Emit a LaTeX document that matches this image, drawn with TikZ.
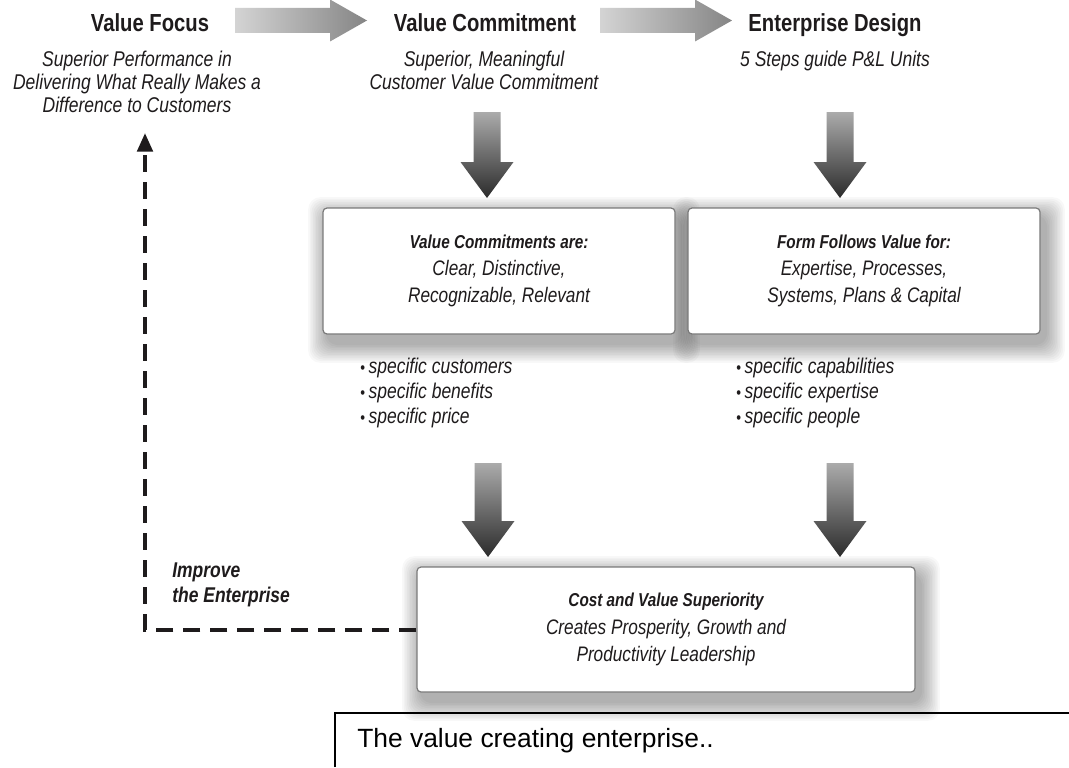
\documentclass[tikz,border=0pt]{standalone}
\usepackage{fontspec}
\setmainfont{Liberation Sans}[FakeStretch=0.82]
\newfontfamily\capfont{Liberation Sans}
\usetikzlibrary{calc,arrows.meta,backgrounds}

\definecolor{ink}{HTML}{1E1B1C}
\definecolor{boxline}{HTML}{7A7A7A}
\definecolor{hlight}{HTML}{D4D4D4}
\definecolor{hdark}{HTML}{858585}
\definecolor{vlight}{HTML}{ABABAB}
\definecolor{vdark}{HTML}{2B2B2B}

\tikzset{
  title/.style={font=\fontsize{18.5}{20}\selectfont\bfseries, text=ink, anchor=base, inner sep=0pt},
  sub/.style={font=\fontsize{16}{17.25}\selectfont\itshape, text=ink, align=center, anchor=north, inner sep=0pt},
  vbox/.style={draw=boxline, line width=0.9pt, rounded corners=3pt, fill=white,
    minimum width=264pt, minimum height=94.5pt, align=center, text=ink,
    font=\fontsize{15.75}{20.5}\selectfont\itshape},
  items/.style={font=\fontsize{16}{18.75}\selectfont\itshape, text=ink, align=left, anchor=north west, inner sep=0pt},
  % big shaded block arrows
  fatright/.style={left color=hlight, right color=hdark, to path={
    ($(\tikztostart)+(0,-12.5)$) -- ($(\tikztotarget)+(-37,-12.5)$) -- ($(\tikztotarget)+(-37,-21)$)
    -- (\tikztotarget) -- ($(\tikztotarget)+(-37,21)$) -- ($(\tikztotarget)+(-37,12.5)$)
    -- ($(\tikztostart)+(0,12.5)$) -- cycle}},
  fatdown/.style={top color=vlight, bottom color=vdark, to path={
    ($(\tikztostart)+(-13.5,0)$) -- ($(\tikztotarget)+(-13.5,-36)$) -- ($(\tikztotarget)+(-26.5,-36)$)
    -- (\tikztotarget) -- ($(\tikztotarget)+(26.5,-36)$) -- ($(\tikztotarget)+(13.5,-36)$)
    -- ($(\tikztostart)+(13.5,0)$) -- cycle}},
  back/.style={line width=3pt, dash pattern=on 12.75pt off 7.5pt, -{Triangle[width=11.5pt,length=14pt]}}
}

\newcommand\bul{{\fontsize{12.5}{12.5}\selectfont\upshape\raisebox{0.4pt}{\textbullet}}\,}

\begin{document}
\begin{tikzpicture}[x=0.75pt,y=-0.75pt]
  \useasboundingbox (0,0) rectangle (1069,767);

  % top row
  \node[title] (vf) at (150,32) {Value Focus};
  \node[sub] (vfs) at (137,51) {Superior Performance in\\Delivering What Really Makes a\\Difference to Customers};
  \node[title] (vc) at (485,32) {Value Commitment};
  \node[sub] (vcs) at (484,51) {Superior, Meaningful\\Customer Value Commitment};
  \node[title] (ed) at (835,32) {Enterprise Design};
  \node[sub] (eds) at (835,51) {5 Steps guide P\&L Units};

  \coordinate (h1) at (235,20.5);
  \coordinate (h1e) at (367,20.5);
  \coordinate (h2) at (600,20.5);
  \coordinate (h2e) at (732,20.5);
  \shade[fatright] (h1) to (h1e);
  \shade[fatright] (h2) to (h2e);

  % middle boxes
  \node[vbox] (b1) at (499,271) {{\bfseries\fontsize{14}{20.5}\selectfont Value Commitments are:}\\Clear, Distinctive,\\Recognizable, Relevant};
  \node[vbox] (b2) at (864,271) {{\bfseries\fontsize{14}{20.5}\selectfont Form Follows Value for:}\\Expertise, Processes,\\Systems, Plans \& Capital};

  \coordinate (d1) at (487,112);
  \coordinate (d1e) at (487,198);
  \coordinate (d2) at (840,112);
  \coordinate (d2e) at (840,198);
  \shade[fatdown] (d1) to (d1e);
  \shade[fatdown] (d2) to (d2e);

  \node[items] (l1) at (360,358) {\bul specific customers\\\bul specific benefits\\\bul specific price};
  \node[items] (l2) at (736,358) {\bul specific capabilities\\\bul specific expertise\\\bul specific people};

  % bottom box
  \node[vbox, minimum width=373.5pt, minimum height=93.75pt] (b3) at (666,629.5)
    {{\bfseries\fontsize{14}{20.5}\selectfont Cost and Value Superiority}\\Creates Prosperity, Growth and\\Productivity Leadership};

  \coordinate (d3) at (488,463);
  \coordinate (d3e) at (488,557);
  \coordinate (d4) at (840,463);
  \coordinate (d4e) at (840,557);
  \shade[fatdown] (d3) to (d3e);
  \shade[fatdown] (d4) to (d4e);

  % feedback loop
  \coordinate (fb) at (145,133);
  \draw[back, ink] (b3.west) -| (fb);
  \node[items, font=\fontsize{16}{18.75}\selectfont\bfseries\itshape] (imp) at (172,563) {Improve\\the Enterprise};

  % caption frame
  \draw[line width=1.5pt] (335,767) |- (1069,713);
  \node[anchor=base west, inner sep=0pt, font=\capfont\fontsize{19.8}{22}\selectfont] (cap) at (357,747) {The value creating enterprise..};

  % soft shadows under the boxes
  \begin{scope}[on background layer]
    \fill[white] (0,0) rectangle (1069,767);
    \foreach \b in {b1,b2,b3} {
      \foreach \k in {1,...,12} {
        \fill[black, opacity=0.028, rounded corners=9pt]
          ($(\b.north west)+(5-1.6*\k,9-1.6*\k)$) rectangle ($(\b.south east)+(5+1.6*\k,9+1.6*\k)$);
      };
    };
  \end{scope}
\end{tikzpicture}
\end{document}
